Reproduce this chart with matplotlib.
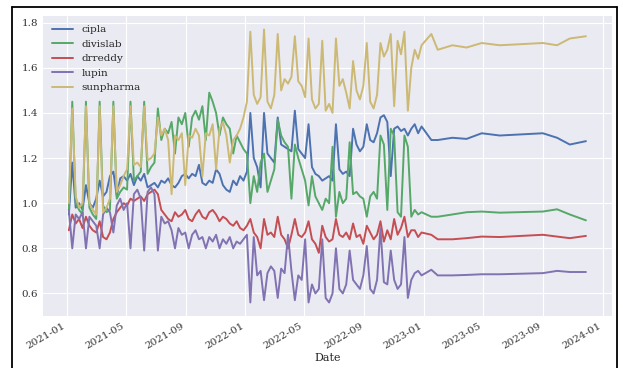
import pandas as pd
import matplotlib
matplotlib.use("Agg")
import matplotlib.pyplot as plt
import matplotlib.dates as mdates
from matplotlib.lines import Line2D

plt.style.use("seaborn-v0_8-darkgrid")
plt.rcParams["font.family"] = "DejaVu Serif"

# weekly prices (normalised), Jan 2021 - Dec 2022
weeks = pd.date_range("2021-01-05", periods=101, freq="7D")

# after that only a few dates
tail_dates = pd.to_datetime([
    "2022-12-13", "2022-12-20", "2022-12-27", "2023-01-16", "2023-01-29",
    "2023-02-28", "2023-03-29", "2023-04-29", "2023-06-05", "2023-09-01",
    "2023-09-30", "2023-10-26", "2023-11-28",
])

cipla = [
    0.95, 1.18, 0.98, 1.00, 0.97, 1.08, 1.00, 0.98, 1.02, 1.10,
    1.03, 1.05, 1.12, 1.14, 1.03, 1.11, 1.12, 1.10, 1.13, 1.08,
    1.12, 1.10, 1.13, 1.07, 1.08, 1.09, 1.07, 1.10, 1.09, 1.11,
    1.08, 1.07, 1.09, 1.12, 1.13, 1.11, 1.13, 1.12, 1.17, 1.09,
    1.08, 1.10, 1.09, 1.15, 1.13, 1.08, 1.06, 1.05, 1.10, 1.08,
    1.12, 1.10, 1.14, 1.40, 1.20, 1.16, 1.07, 1.40, 1.22, 1.20,
    1.18, 1.38, 1.26, 1.25, 1.24, 1.23, 1.41, 1.24, 1.22, 1.20,
    1.35, 1.16, 1.13, 1.12, 1.10, 1.11, 1.12, 1.10, 1.35, 1.15,
    1.13, 1.14, 1.12, 1.33, 1.26, 1.23, 1.25, 1.35, 1.28, 1.27,
    1.31, 1.38, 1.39, 1.36, 1.12, 1.33, 1.34, 1.32, 1.33, 1.30,
    1.33,
]
divislab = [
    0.97, 1.45, 1.00, 0.97, 0.95, 1.45, 0.98, 0.95, 0.93, 1.45,
    0.99, 0.96, 0.97, 1.45, 1.02, 1.05, 1.07, 1.06, 1.45, 1.10,
    1.12, 1.14, 1.45, 1.13, 1.16, 1.18, 1.42, 1.28, 1.33, 1.31,
    1.36, 1.22, 1.38, 1.35, 1.40, 1.25, 1.38, 1.41, 1.37, 1.43,
    1.28, 1.49, 1.45, 1.40, 1.30, 1.38, 1.35, 1.33, 1.22, 1.30,
    1.27, 1.24, 1.22, 1.00, 1.12, 1.05, 1.18, 1.22, 1.05, 1.10,
    1.15, 1.37, 1.30, 1.27, 1.25, 1.02, 1.26, 1.20, 1.15, 1.10,
    0.99, 1.12, 1.03, 1.00, 0.97, 1.02, 1.00, 1.25, 0.94, 1.05,
    1.00, 1.02, 1.27, 1.04, 1.05, 1.03, 1.02, 0.94, 1.03, 1.05,
    1.02, 1.30, 1.26, 0.97, 1.33, 1.30, 0.96, 0.94, 1.30, 1.25,
    0.94,
]
drreddy = [
    0.88, 0.95, 0.91, 0.93, 0.89, 0.94, 0.90, 0.88, 0.87, 0.92,
    0.85, 0.84, 0.87, 0.93, 0.96, 0.98, 1.00, 0.99, 1.02, 1.01,
    1.02, 1.03, 1.01, 1.04, 1.05, 1.06, 1.04, 0.97, 0.95, 0.93,
    0.92, 0.96, 0.94, 0.95, 0.97, 0.93, 0.92, 0.95, 0.97, 0.94,
    0.93, 0.96, 0.97, 0.95, 0.92, 0.94, 0.93, 0.91, 0.90, 0.92,
    0.89, 0.88, 0.90, 0.93, 0.87, 0.85, 0.80, 0.93, 0.86, 0.87,
    0.85, 0.94, 0.86, 0.84, 0.80, 0.86, 0.93, 0.86, 0.85, 0.87,
    0.92, 0.84, 0.82, 0.78, 0.90, 0.85, 0.83, 0.84, 0.93, 0.86,
    0.85, 0.87, 0.84, 0.91, 0.85, 0.86, 0.82, 0.90, 0.87, 0.84,
    0.86, 0.92, 0.83, 0.88, 0.84, 0.93, 0.86, 0.89, 0.94, 0.85,
    0.88,
]
lupin = [
    0.97, 0.80, 0.95, 0.93, 0.96, 0.80, 0.94, 0.92, 0.90, 0.80,
    0.95, 0.98, 0.96, 0.87, 0.99, 1.02, 0.97, 1.00, 0.80, 1.04,
    1.06, 1.02, 0.79, 1.05, 1.07, 1.04, 0.79, 0.94, 0.91, 0.92,
    0.88, 0.80, 0.89, 0.86, 0.87, 0.80, 0.86, 0.88, 0.84, 0.85,
    0.80, 0.85, 0.83, 0.86, 0.80, 0.84, 0.82, 0.85, 0.80, 0.83,
    0.82, 0.84, 0.86, 0.56, 0.85, 0.68, 0.70, 0.57, 0.69, 0.72,
    0.70, 0.58, 0.71, 0.69, 0.86, 0.70, 0.57, 0.68, 0.66, 0.84,
    0.56, 0.64, 0.60, 0.62, 0.84, 0.58, 0.56, 0.60, 0.80, 0.62,
    0.60, 0.64, 0.79, 0.66, 0.64, 0.62, 0.68, 0.81, 0.62, 0.60,
    0.66, 0.89, 0.65, 0.64, 0.79, 0.66, 0.62, 0.64, 0.85, 0.58,
    0.66,
]
sunpharma = [
    1.00, 1.42, 1.03, 0.98, 1.00, 1.43, 1.00, 0.97, 0.95, 1.43,
    0.96, 0.98, 1.02, 1.43, 1.05, 1.08, 1.12, 1.15, 1.43, 1.17,
    1.18, 1.16, 1.43, 1.19, 1.20, 1.22, 1.38, 1.30, 1.33, 1.28,
    1.04, 1.30, 1.28, 1.31, 1.08, 1.30, 1.29, 1.33, 1.30, 1.12,
    1.31, 1.30, 1.35, 1.15, 1.33, 1.36, 1.30, 1.18, 1.28, 1.30,
    1.33, 1.38, 1.45, 1.76, 1.48, 1.44, 1.47, 1.77, 1.45, 1.42,
    1.48, 1.75, 1.50, 1.55, 1.53, 1.56, 1.74, 1.54, 1.52, 1.47,
    1.73, 1.46, 1.42, 1.44, 1.72, 1.41, 1.44, 1.40, 1.73, 1.52,
    1.55, 1.49, 1.42, 1.63, 1.50, 1.46, 1.52, 1.71, 1.45, 1.42,
    1.48, 1.71, 1.65, 1.68, 1.75, 1.43, 1.72, 1.66, 1.76, 1.41,
    1.60,
]

cipla_tail = [1.35, 1.31, 1.34, 1.28, 1.28, 1.29, 1.285, 1.31, 1.30, 1.31, 1.29, 1.26, 1.275]
divislab_tail = [0.97, 0.95, 0.96, 0.94, 0.94, 0.95, 0.96, 0.963, 0.958, 0.963, 0.973, 0.95, 0.924]
drreddy_tail = [0.88, 0.85, 0.87, 0.86, 0.84, 0.84, 0.845, 0.852, 0.85, 0.86, 0.852, 0.845, 0.855]
lupin_tail = [0.69, 0.70, 0.68, 0.705, 0.68, 0.68, 0.682, 0.685, 0.685, 0.69, 0.70, 0.695, 0.695]
sunpharma_tail = [1.68, 1.64, 1.70, 1.75, 1.68, 1.70, 1.69, 1.71, 1.70, 1.71, 1.70, 1.73, 1.74]

colors = ["#4C72B0", "#55A868", "#C44E52", "#8172B2", "#CCB974"]

dates = weeks.append(tail_dates)
df = pd.DataFrame({
    "cipla": cipla + cipla_tail,
    "divislab": divislab + divislab_tail,
    "drreddy": drreddy + drreddy_tail,
    "lupin": lupin + lupin_tail,
    "sunpharma": sunpharma + sunpharma_tail,
}, index=pd.Index(dates, name="Date"))

fig = plt.figure(figsize=(6.23, 3.68), dpi=100)
ax = fig.add_axes([0.069, 0.141, 0.913, 0.816])
df.plot(ax=ax, linewidth=1.4, color=colors, x_compat=True)

ax.xaxis.set_major_locator(mdates.MonthLocator(bymonth=[1, 5, 9]))
ax.xaxis.set_major_formatter(mdates.DateFormatter("%Y-%m"))
for lab in ax.get_xticklabels():
    lab.set_rotation(30)
    lab.set_ha("right")
ax.tick_params(labelsize=7.5, colors="#333333")
ax.set_xlabel("Date", fontsize=8, color="#222222", labelpad=2)
ax.legend(loc="upper left", fontsize=7.5, frameon=False)

# black frame round the picture (no bottom edge)
for xs, ys in [([0.019, 0.019], [0.0, 0.981]), ([0.019, 0.991], [0.981, 0.981]), ([0.991, 0.991], [0.981, 0.0])]:
    fig.add_artist(Line2D(xs, ys, color="black", linewidth=1.3, transform=fig.transFigure))

fig.savefig("out.png", dpi=100)
